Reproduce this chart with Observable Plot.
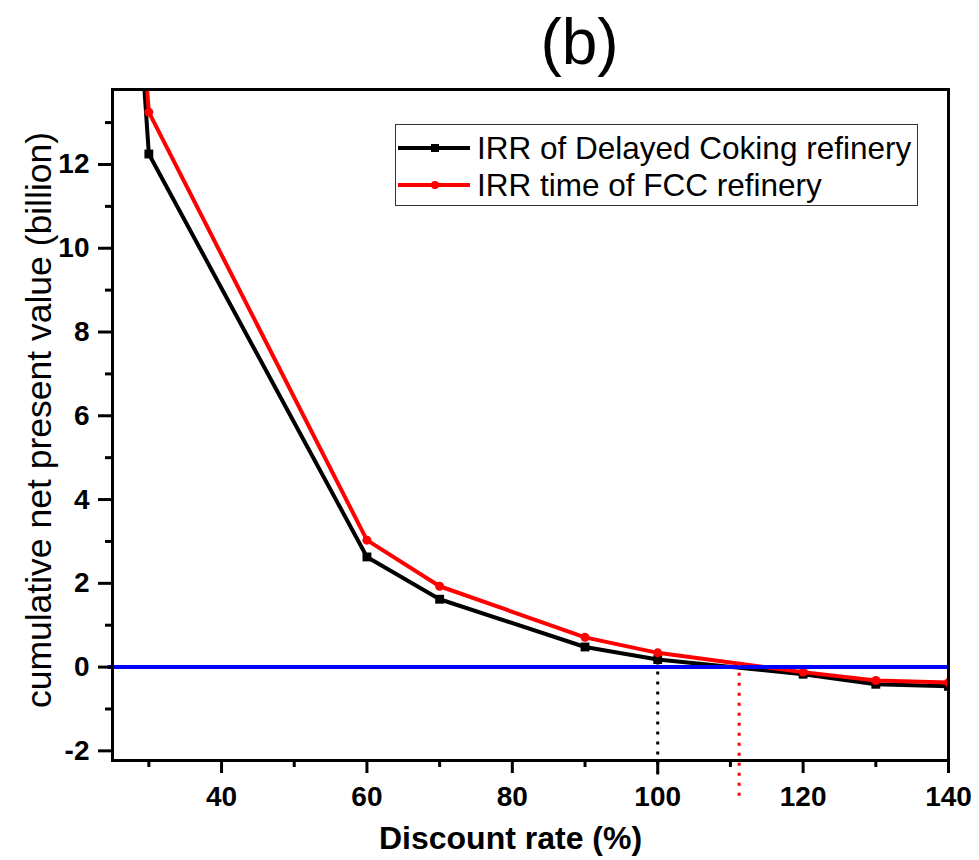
<!DOCTYPE html>
<html>
<head>
<meta charset="utf-8">
<script src="https://cdn.jsdelivr.net/npm/d3@7"></script>
<script src="https://cdn.jsdelivr.net/npm/@observablehq/plot@0.6"></script>
<style>
  body { margin: 0; background: #fff; }
  #wrap { position: relative; width: 979px; height: 860px; font-family: "Liberation Sans", Arial, sans-serif; }
  #legend { position: absolute; left: 395px; top: 124px; width: 523px; height: 82px; border: 1.5px solid #333; background: #fff; box-sizing: border-box; }
  .row { position: absolute; left: 0; height: 36px; display: flex; align-items: center; font-size: 31.5px; color: #000; white-space: nowrap; }
  .row svg { margin-left: 2px; margin-right: 7px; }
</style>
</head>
<body>
<div id="wrap"></div>
<script>
// ---- data ----
const rates  = [29, 30, 60, 70, 90, 100, 120, 130, 140];
const coking = [14.8, 12.25, 2.63, 1.62, 0.48, 0.18, -0.17, -0.41, -0.46];
const fcc    = [15.5, 13.25, 3.03, 1.93, 0.71, 0.34, -0.12, -0.32, -0.37];
const seriesNames  = ["IRR of Delayed Coking refinery", "IRR time of FCC refinery"];
const seriesColors = ["#000000", "#ff0000"];
const irrRates = [100, 111.2];       // IRR positions (dotted drop lines)
const irrTop   = [0.12, 0.09];
const irrBottom = [-2.62, -3.1];
const xMajor = [40, 60, 80, 100, 120, 140];
const xMinor = [30, 50, 70, 90, 110, 130];
const yMajor = [-2, 0, 2, 4, 6, 8, 10, 12];
const yMinor = [-1, 1, 3, 5, 7, 9, 11, 13];
const titleText = "(b)";
const xLabel = "Discount rate (%)";
const yLabel = "cumulative net present value (billion)";

const cokingData = rates.map((r, i) => ({rate: r, v: coking[i]}));
const fccData = rates.map((r, i) => ({rate: r, v: fcc[i]}));
const irrData = irrRates.map((r, i) => ({rate: r, top: irrTop[i], bottom: irrBottom[i], color: seriesColors[i]}));

const font = '"Liberation Sans", Arial, sans-serif';

const chart = Plot.plot({
  width: 979,
  height: 860,
  marginLeft: 112,
  marginRight: 31,
  marginTop: 89,
  marginBottom: 100,
  style: {fontFamily: font, background: "white", overflow: "visible"},
  x: {domain: [25, 140], label: null},
  y: {domain: [-2.23, 13.79], label: null},
  marks: [
    Plot.line(cokingData, {x: "rate", y: "v", stroke: seriesColors[0], strokeWidth: 4, clip: true}),
    Plot.dot(cokingData, {x: "rate", y: "v", symbol: "square", r: 5, fill: seriesColors[0], stroke: "none", clip: true}),
    Plot.line(fccData, {x: "rate", y: "v", stroke: seriesColors[1], strokeWidth: 4, clip: true}),
    Plot.dot(fccData, {x: "rate", y: "v", symbol: "circle", r: 4.5, fill: seriesColors[1], stroke: "none", clip: true}),
    Plot.ruleY([0], {x1: 24.4, x2: 140, stroke: "#0000ff", strokeWidth: 4}),
    Plot.ruleX(irrData, {x: "rate", y1: "top", y2: "bottom", stroke: "color", strokeWidth: 3, strokeDasharray: "3,7"}),
    Plot.frame({stroke: "black", strokeWidth: 3}),
    Plot.axisX({ticks: xMajor, tickSize: 13, tickPadding: 13, strokeWidth: 3, fontSize: 28, fontWeight: "bold", fill: "black", tickFormat: d => String(d)}),
    Plot.axisX({ticks: xMinor, tickSize: 7, strokeWidth: 3, tickFormat: () => ""}),
    Plot.axisY({ticks: yMajor, tickSize: 14, tickPadding: 9, strokeWidth: 3, fontSize: 28, fontWeight: "bold", fill: "black", tickFormat: d => String(d)}),
    Plot.axisY({ticks: yMinor, tickSize: 7, strokeWidth: 3, tickFormat: () => ""}),
    Plot.text([titleText], {frameAnchor: "top", dx: 49, dy: -26, lineAnchor: "bottom", fontSize: 64, fill: "black"}),
    Plot.text([xLabel], {frameAnchor: "bottom", dx: -20, dy: 88, lineAnchor: "bottom", fontSize: 32, fontWeight: "bold", fill: "black"}),
    Plot.text([yLabel], {frameAnchor: "left", dx: -62, dy: -5, rotate: -90, textAnchor: "middle", lineAnchor: "bottom", fontSize: 35.5, fill: "black"})
  ]
});

const wrap = document.getElementById("wrap");
wrap.appendChild(chart);

// legend
const legend = document.createElement("div");
legend.id = "legend";
const symbols = ["square", "circle"];
seriesNames.forEach((name, i) => {
  const row = document.createElement("div");
  row.className = "row";
  row.style.top = (i === 0 ? 5 : 42) + "px";
  const marker = symbols[i] === "square"
    ? `<rect x="33" y="14" width="8" height="8" fill="${seriesColors[i]}"/>`
    : `<circle cx="37" cy="18" r="4" fill="${seriesColors[i]}"/>`;
  row.innerHTML = `<svg width="72" height="36"><line x1="0" x2="72" y1="18" y2="18" stroke="${seriesColors[i]}" stroke-width="4"/>${marker}</svg><span>${name}</span>`;
  legend.appendChild(row);
});
wrap.appendChild(legend);
</script>
</body>
</html>
